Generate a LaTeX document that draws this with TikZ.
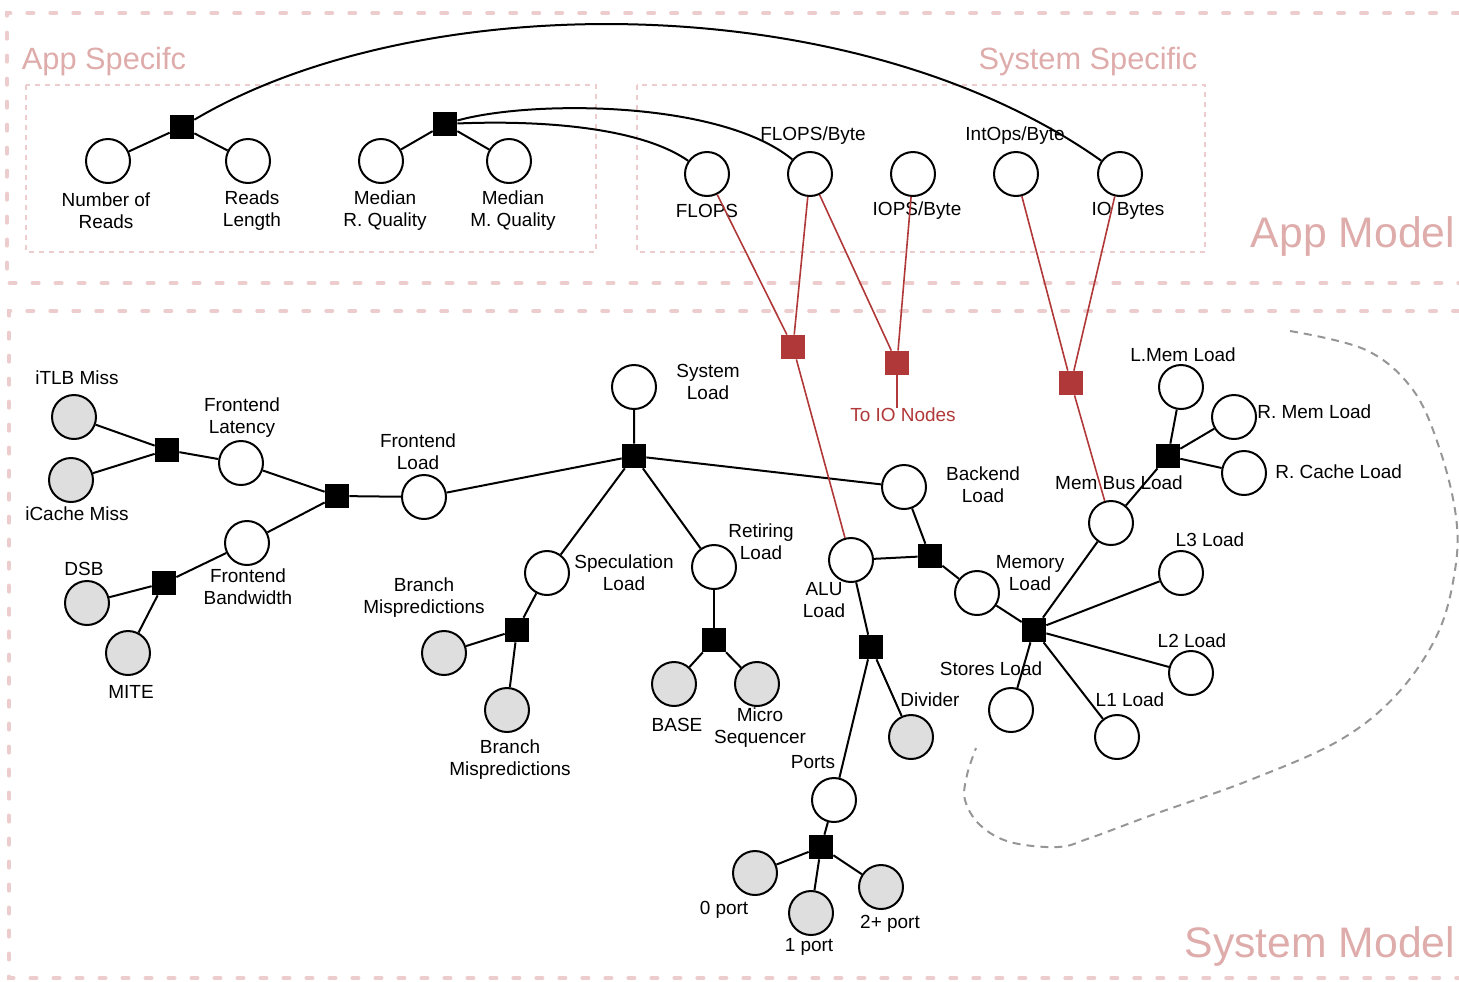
\documentclass[tikz,border=0pt]{standalone}
\usepackage{fontspec}
\setmainfont{Liberation Sans}
\definecolor{framepink}{RGB}{236,204,204}
\definecolor{textpink}{RGB}{222,172,170}
\definecolor{redc}{RGB}{176,56,56}
\definecolor{graybg}{RGB}{222,222,222}
\definecolor{blobgray}{RGB}{150,150,150}
\begin{document}
\begin{tikzpicture}[x=0.02cm,y=-0.02cm,
  every node/.style={font=\fontsize{10.8}{12.6}\selectfont},
  cnode/.style={circle,draw=black,line width=0.04cm,fill=white,minimum size=0.88cm,inner sep=0pt},
  gnode/.style={cnode,fill=graybg},
  sqb/.style={rectangle,fill=black,minimum size=0.48cm,inner sep=0pt},
  sqr/.style={rectangle,fill=redc,minimum size=0.48cm,inner sep=0pt},
  lbl/.style={align=center,inner sep=0pt},
  edge/.style={line width=0.04cm},
  redge/.style={draw=redc,line width=0.032cm},
  bigframe/.style={draw=framepink,line width=0.08cm,dash pattern=on 0.12cm off 0.34cm,line cap=round},
  smallframe/.style={draw=framepink,line width=0.025cm,dash pattern=on 0.1cm off 0.1cm},
  ftitle/.style={text=textpink,inner sep=0pt,font=\fontsize{17.5}{20}\selectfont},
  mtitle/.style={text=textpink,inner sep=0pt,font=\fontsize{24.3}{28}\selectfont},
  blob/.style={draw=blobgray,line width=0.04cm,dash pattern=on 0.16cm off 0.12cm}
]
\useasboundingbox (0,0) rectangle (1459,981);

% frames
\draw[bigframe] (1459,13) -- (7,13) -- (7,283) -- (1459,283);
\draw[bigframe] (1459,311) -- (9,311) -- (9,978) -- (1459,978);
\draw[smallframe] (26,85) rectangle (596,252);
\draw[smallframe] (637,85) rectangle (1205,252);
\node[ftitle] (tAppSpec) at (104,62) {App Specifc};
\node[ftitle] (tSysSpec) at (1088,62) {System Specific};
\node[mtitle] (tAppModel) at (1353,236) {App Model};
\node[mtitle] (tSysModel) at (1320,946) {System Model};

% blob
\draw[blob] plot[smooth,tension=0.6] coordinates {(1290,331) (1366,350) (1413,390) (1440,450) (1456,517) (1455,570) (1438,633) (1398,693) (1340,740) (1250,780) (1152,815) (1090,838) (1058,847) (1010,842) (980,825) (965,800) (967,775) (976,748)};

% ---------- App model nodes ----------
\node[cnode] (NR) at (108,161) {};
\node[cnode] (RL) at (248,161) {};
\node[cnode] (MRQ) at (381,161) {};
\node[cnode] (MMQ) at (509,161) {};
\node[sqb] (SQ1) at (182,127) {};
\node[sqb] (SQ2) at (445,124) {};
\node[lbl] (NR-l) at (106,211) {Number of\\Reads};
\node[lbl] (RL-l) at (252,211) {Reads\\Length};
\node[lbl] (MRQ-l) at (385,211) {Median\\R. Quality};
\node[lbl] (MMQ-l) at (513,211) {Median\\M. Quality};

\node[cnode] (FLOPS) at (707,174) {};
\node[cnode] (FPB) at (810,174) {};
\node[cnode] (IOPS) at (913,174) {};
\node[cnode] (INTB) at (1016,174) {};
\node[cnode] (IOB) at (1120,174) {};
\node[lbl] (FLOPS-l) at (707,211) {FLOPS};
\node[lbl] (FPB-l) at (813,136) {FLOPS/Byte};
\node[lbl] (IOPS-l) at (917,211) {IOPS/Byte};
\node[lbl] (INTB-l) at (1015,136) {IntOps/Byte};
\node[lbl] (IOB-l) at (1128,211) {IO Bytes};

\draw[edge] (NR) -- (SQ1) -- (RL);
\draw[edge] (MRQ) -- (SQ2) -- (MMQ);
\draw[edge] (SQ1) .. controls (420,-14) and (855,-14) .. (IOB);
\draw[edge] (SQ2) .. controls (540,120) and (640,127) .. (FLOPS);
\draw[edge] (SQ2) .. controls (530,100) and (720,100) .. (FPB);

% ---------- System model nodes ----------
\node[gnode] (ITLB) at (74,417) {};
\node[gnode] (ICACHE) at (71,480) {};
\node[sqb] (SQFL) at (167,450) {};
\node[cnode] (FLAT) at (241,463) {};
\node[sqb] (SQFE) at (337,496) {};
\node[cnode] (FLOAD) at (424,497) {};
\node[cnode] (FBW) at (247,543) {};
\node[sqb] (SQFB) at (164,583) {};
\node[gnode] (DSB) at (87,603) {};
\node[gnode] (MITE) at (128,653) {};
\node[lbl] (ITLB-l) at (77,378) {iTLB Miss};
\node[lbl] (ICACHE-l) at (77,514) {iCache Miss};
\node[lbl] (FLAT-l) at (242,418) {Frontend\\Latency};
\node[lbl] (FLOAD-l) at (418,452) {Frontend\\Load};
\node[lbl] (FBW-l) at (248,587) {Frontend\\Bandwidth};
\node[lbl] (DSB-l) at (84,569) {DSB};
\node[lbl] (MITE-l) at (131,692) {MITE};

\node[sqb] (SQSYS) at (634,456) {};
\node[cnode] (SYS) at (634,387) {};
\node[lbl] (SYS-l) at (708,382) {System\\Load};
\node[cnode] (BACK) at (904,487) {};
\node[lbl] (BACK-l) at (983,485) {Backend\\Load};
\node[cnode] (SPEC) at (547,573) {};
\node[lbl] (SPEC-l) at (624,573) {Speculation\\Load};
\node[sqb] (SQSPEC) at (517,630) {};
\node[gnode] (BM1) at (444,653) {};
\node[lbl] (BM1-l) at (424,598) {Branch\\Mispredictions};
\node[gnode] (BM2) at (507,710) {};
\node[lbl] (BM2-l) at (510,760) {Branch\\Mispredictions};
\node[cnode] (RET) at (714,567) {};
\node[lbl] (RET-l) at (761,542) {Retiring\\Load};
\node[sqb] (SQRET) at (714,640) {};
\node[gnode] (BASE) at (674,684) {};
\node[lbl] (BASE-l) at (677,725) {BASE};
\node[gnode] (MICRO) at (757,684) {};
\node[lbl] (MICRO-l) at (760,728) {Micro\\Sequencer};

\node[cnode] (ALU) at (851,560) {};
\node[lbl] (ALU-l) at (824,600) {ALU\\Load};
\node[sqb] (SQBACK) at (930,556) {};
\node[cnode] (MEM) at (977,593) {};
\node[lbl] (MEM-l) at (1030,573) {Memory\\Load};
\node[sqb] (SQALU) at (871,647) {};
\node[gnode] (DIV) at (911,737) {};
\node[lbl] (DIV-l) at (930,700) {Divider};
\node[cnode] (PORTS) at (834,800) {};
\node[lbl] (PORTS-l) at (813,762) {Ports};
\node[sqb] (SQPORTS) at (821,847) {};
\node[gnode] (P0) at (755,873) {};
\node[lbl] (P0-l) at (724,910) {0 port};
\node[gnode] (P1) at (811,913) {};
\node[lbl] (P1-l) at (809,947) {1 port};
\node[gnode] (P2) at (881,887) {};
\node[lbl] (P2-l) at (890,924) {2+ port};

\node[sqb] (SQMEM) at (1034,630) {};
\node[cnode] (MEMBUS) at (1111,523) {};
\node[lbl] (MEMBUS-l) at (1119,483) {Mem Bus Load};
\node[sqb] (SQMB) at (1168,456) {};
\node[cnode] (LMEM) at (1181,387) {};
\node[lbl] (LMEM-l) at (1183,355) {L.Mem Load};
\node[cnode] (RMEM) at (1234,417) {};
\node[lbl,anchor=west] (RMEM-l) at (1257,412) {R. Mem Load};
\node[cnode] (RCACHE) at (1244,473) {};
\node[lbl,anchor=west] (RCACHE-l) at (1275,472) {R. Cache Load};
\node[cnode] (L3) at (1181,573) {};
\node[lbl] (L3-l) at (1210,540) {L3 Load};
\node[cnode] (L2) at (1191,673) {};
\node[lbl] (L2-l) at (1192,641) {L2 Load};
\node[cnode] (L1) at (1117,737) {};
\node[lbl] (L1-l) at (1130,700) {L1 Load};
\node[cnode] (STORES) at (1011,710) {};
\node[lbl] (STORES-l) at (991,669) {Stores Load};

% red squares
\node[sqr] (R1) at (793,347) {};
\node[sqr] (R2) at (897,363) {};
\node[sqr] (R3) at (1071,383) {};
\node[lbl,text=redc] (TOIO) at (903,415) {To IO Nodes};

% black edges
\draw[edge] (ITLB) -- (SQFL) -- (ICACHE);
\draw[edge] (SQFL) -- (FLAT) -- (SQFE);
\draw[edge] (FBW) -- (SQFE) -- (FLOAD);
\draw[edge] (DSB) -- (SQFB) -- (MITE);
\draw[edge] (SQFB) -- (FBW);
\draw[edge] (FLOAD) -- (SQSYS) -- (SYS);
\draw[edge] (SQSYS) -- (BACK);
\draw[edge] (SQSYS) -- (SPEC);
\draw[edge] (SQSYS) -- (RET);
\draw[edge] (SPEC) -- (SQSPEC);
\draw[edge] (SQSPEC) -- (BM1);
\draw[edge] (SQSPEC) -- (BM2);
\draw[edge] (RET) -- (SQRET);
\draw[edge] (SQRET) -- (BASE);
\draw[edge] (SQRET) -- (MICRO);
\draw[edge] (BACK) -- (SQBACK);
\draw[edge] (ALU) -- (SQBACK);
\draw[edge] (SQBACK) -- (MEM);
\draw[edge] (ALU) -- (SQALU);
\draw[edge] (SQALU) -- (DIV);
\draw[edge] (SQALU) -- (PORTS);
\draw[edge] (PORTS) -- (SQPORTS);
\draw[edge] (SQPORTS) -- (P0);
\draw[edge] (SQPORTS) -- (P1);
\draw[edge] (SQPORTS) -- (P2);
\draw[edge] (MEM) -- (SQMEM);
\draw[edge] (SQMEM) -- (MEMBUS);
\draw[edge] (SQMEM) -- (L3);
\draw[edge] (SQMEM) -- (L2);
\draw[edge] (SQMEM) -- (L1);
\draw[edge] (SQMEM) -- (STORES);
\draw[edge] (MEMBUS) -- (SQMB);
\draw[edge] (SQMB) -- (LMEM);
\draw[edge] (SQMB) -- (RMEM);
\draw[edge] (SQMB) -- (RCACHE);

% red edges
\draw[redge] (FLOPS) -- (R1);
\draw[redge] (FPB) -- (R1);
\draw[redge] (FPB) -- (R2);
\draw[redge] (IOPS) -- (R2);
\draw[redge] (R2) -- (R2 |- TOIO.north);
\draw[redge] (INTB) -- (R3);
\draw[redge] (IOB) -- (R3);
\draw[redge] (R1) -- (ALU);
\draw[redge] (R3) -- (MEMBUS);
\end{tikzpicture}
\end{document}
